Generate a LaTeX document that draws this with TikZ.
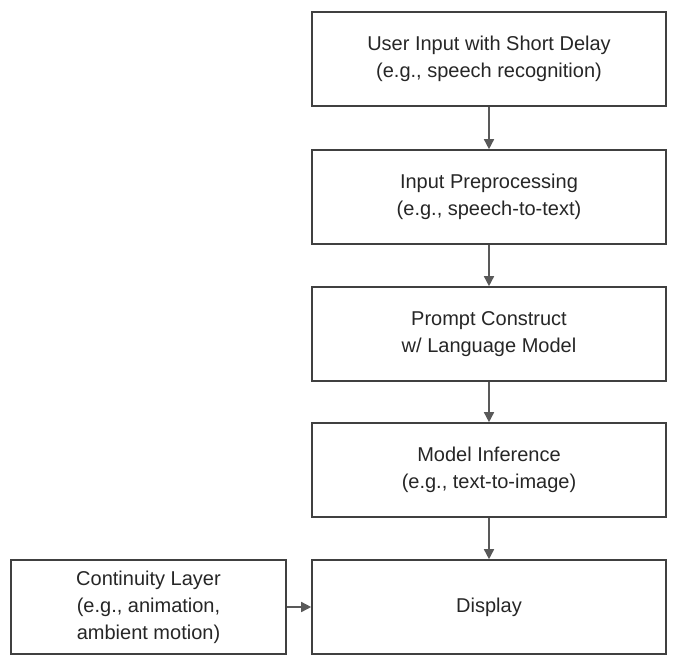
\documentclass[tikz,border=0pt]{standalone}
\usepackage{fontspec}
\setmainfont{Liberation Sans}
\usetikzlibrary{arrows.meta}
\begin{document}
\begin{tikzpicture}[x=1pt,y=-1pt,
  box/.style={draw=black!75,line width=1.6pt,minimum width=354pt,minimum height=94pt,align=center,inner sep=0pt,font=\fontsize{20}{27}\selectfont,text=black!85},
  arr/.style={draw=black!65,line width=1.5pt,-{Triangle[length=10pt,width=10pt]}}]
\useasboundingbox (0,0) rectangle (677,664);
\node[box] (a) at (489,59) {User Input with Short Delay\\(e.g., speech recognition)};
\node[box] (b) at (489,197) {Input Preprocessing\\(e.g., speech-to-text)};
\node[box] (c) at (489,334) {Prompt Construct\\w/ Language Model};
\node[box] (d) at (489,470) {Model Inference\\(e.g., text-to-image)};
\node[box] (e) at (489,607) {Display};
\node[box,minimum width=275pt] (f) at (148.5,607) {Continuity Layer\\(e.g., animation,\\ambient motion)};
\draw[arr] (a) -- (b);
\draw[arr] (b) -- (c);
\draw[arr] (c) -- (d);
\draw[arr] (d) -- (e);
\draw[arr] (f) -- (e);
\end{tikzpicture}
\end{document}
